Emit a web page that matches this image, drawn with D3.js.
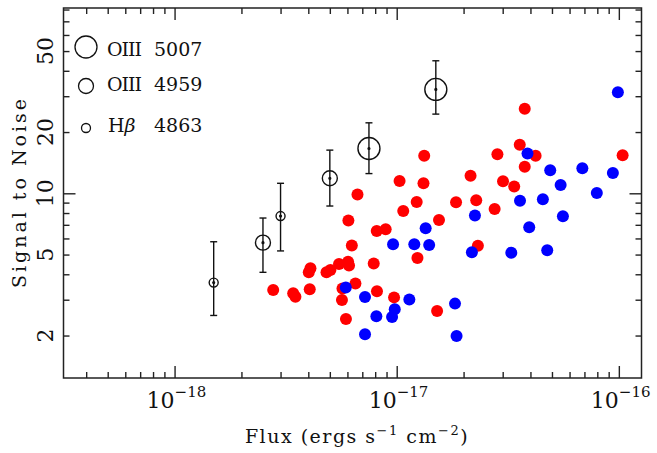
<!DOCTYPE html>
<html>
<head>
<meta charset="utf-8">
<script src="https://cdn.jsdelivr.net/npm/d3@7"></script>
<style>
  body { margin: 0; background: #fff; }
  text { font-family: "DejaVu Serif", serif; fill: #111; }
</style>
</head>
<body>
<div id="chart"></div>
<script>
// Individual objects (red)
const redFlux = [3.77e-17, 1.33e-17, 2.84e-17, 3.58e-17, 4.22e-17, 3.77e-17, 1.32e-17, 2.15e-17, 3.01e-17, 3.38e-17,
  1.23e-17, 1.85e-17, 2.28e-17, 2.76e-17, 1.55e-17, 1.04e-16, 2.32e-17, 1.24e-17, 1.52e-17, 1.03e-17,
  6.66e-18, 1.07e-17, 6.06e-18, 8.13e-18, 8.92e-18, 6.28e-18, 7.88e-18, 5.50e-18, 6.04e-18, 6.10e-18,
  4.09e-18, 4.02e-18, 4.83e-18, 5.03e-18, 2.78e-18, 3.42e-18, 3.50e-18, 4.06e-18, 5.70e-18, 6.52e-18,
  5.67e-18, 8.15e-18, 9.73e-18, 5.91e-18];
const redSN = [26.0, 15.3, 15.55, 17.3, 15.3, 13.5, 11.2, 12.2, 11.45, 10.8,
  9.06, 9.03, 9.24, 8.37, 7.39, 15.4, 5.53, 4.81, 2.64, 11.5,
  9.86, 8.18, 7.35, 6.53, 6.65, 5.54, 4.52, 4.49, 4.61, 4.42,
  4.28, 4.09, 4.09, 4.20, 3.35, 3.23, 3.10, 3.38, 3.41, 3.60,
  2.99, 3.30, 3.08, 2.41];

// Individual objects (blue)
const blueFlux = [9.90e-17, 3.88e-17, 4.91e-17, 6.85e-17, 9.40e-17, 5.47e-17, 7.96e-17, 3.59e-17, 4.55e-17, 2.25e-17,
  5.60e-17, 1.35e-17, 3.95e-17, 1.20e-17, 1.40e-17, 2.18e-17, 3.28e-17, 4.76e-17, 1.14e-17, 1.83e-17,
  1.86e-17, 9.63e-18, 5.90e-18, 7.20e-18, 9.80e-18, 9.53e-18, 8.10e-18, 7.20e-18];
const blueSN = [31.4, 15.7, 12.97, 13.27, 12.58, 10.98, 10.03, 9.20, 9.34, 7.78,
  7.72, 6.73, 6.81, 5.62, 5.57, 5.13, 5.11, 5.25, 3.01, 2.87,
  1.99, 5.62, 3.44, 3.09, 2.69, 2.47, 2.49, 2.03];

// Stacked measurements with error bars
const lineNames = ["OIII 5007", "OIII 4959", "Hβ 4863"];
const o5007Flux = [7.5e-18, 1.5e-17];
const o5007SN = [16.6, 32.4];
const o5007Lo = [12.5, 24.5];
const o5007Hi = [22.2, 44.8];
const o4959Flux = [2.5e-18, 5.0e-18];
const o4959SN = [5.72, 11.85];
const o4959Lo = [4.09, 8.66];
const o4959Hi = [7.56, 16.3];
const hbFlux = [1.5e-18, 3.0e-18];
const hbSN = [3.64, 7.73];
const hbLo = [2.51, 5.21];
const hbHi = [5.78, 11.2];

// Tick labels
const xTickValues = [1e-18, 1e-17, 1e-16];
const xTickExps = ["−18", "−17", "−16"];
const yTickValues = [2, 5, 10, 20, 50];

const width = 657, height = 453;
const plotLeft = 63.5, plotRight = 641.5, plotTop = 8, plotBottom = 378;

const svg = d3.select("#chart").append("svg")
  .attr("width", width)
  .attr("height", height);

const x = d3.scaleLog().domain([Math.pow(10, -18.5), Math.pow(10, -15.898)]).range([plotLeft, plotRight]);
const y = d3.scaleLog().domain([1.237, 81.4]).range([plotBottom, plotTop]);

const isMajor = v => Math.abs(Math.log10(v) - Math.round(Math.log10(v))) < 1e-6;
const xMinor = x.ticks().filter(v => !isMajor(v));
const xMajor = x.ticks().filter(isMajor);
const yMinor = y.ticks().filter(v => !isMajor(v));
const yMajor = y.ticks().filter(isMajor);

// inward ticks on all four sides
function tickAxis(axisFn, scale, values, size, tx, ty) {
  const g = svg.append("g")
    .attr("transform", `translate(${tx},${ty})`)
    .call(axisFn(scale).tickValues(values).tickSize(-size).tickFormat(""));
  g.select(".domain").remove();
  g.selectAll("line").attr("stroke", "#222").attr("stroke-width", 1.4);
}
tickAxis(d3.axisBottom, x, xMinor, 6, 0, plotBottom);
tickAxis(d3.axisBottom, x, xMajor, 12, 0, plotBottom);
tickAxis(d3.axisTop, x, xMinor, 6, 0, plotTop);
tickAxis(d3.axisTop, x, xMajor, 12, 0, plotTop);
tickAxis(d3.axisLeft, y, yMinor, 6, plotLeft, 0);
tickAxis(d3.axisLeft, y, yMajor, 12, plotLeft, 0);
tickAxis(d3.axisRight, y, yMinor, 6, plotRight, 0);
tickAxis(d3.axisRight, y, yMajor, 12, plotRight, 0);

// frame
svg.append("rect")
  .attr("x", plotLeft).attr("y", plotTop)
  .attr("width", plotRight - plotLeft).attr("height", plotBottom - plotTop)
  .attr("fill", "none").attr("stroke", "#222").attr("stroke-width", 1.5);

// x tick labels: 10^n
xTickValues.forEach(function(v, i) {
  const t = svg.append("text")
    .attr("x", x(v) - 28)
    .attr("y", 408)
    .style("font-size", "22px");
  t.append("tspan").text("10");
  t.append("tspan").attr("dy", -11).style("font-size", "15px").text(xTickExps[i]);
});

// y tick labels, rotated
yTickValues.forEach(function(v) {
  svg.append("text")
    .attr("transform", `translate(53,${y(v)}) rotate(-90)`)
    .attr("text-anchor", "middle")
    .style("font-size", "22px")
    .text(v);
});

// axis titles
const xt = svg.append("text")
  .attr("x", 357)
  .attr("y", 443)
  .attr("text-anchor", "middle")
  .style("font-size", "19px")
  .style("letter-spacing", "1.5px");
xt.append("tspan").text("Flux (ergs s");
xt.append("tspan").attr("dy", -8).style("font-size", "13px").text("−1");
xt.append("tspan").attr("dy", 8).text(" cm");
xt.append("tspan").attr("dy", -8).style("font-size", "13px").text("−2");
xt.append("tspan").attr("dy", 8).text(")");

svg.append("text")
  .attr("transform", "translate(26,192) rotate(-90)")
  .attr("text-anchor", "middle")
  .style("font-size", "19px")
  .style("letter-spacing", "3px")
  .text("Signal to Noise");

// filled points
svg.append("g").selectAll("circle")
  .data(redFlux.map((f, i) => [f, redSN[i]]))
  .enter().append("circle")
  .attr("cx", d => x(d[0])).attr("cy", d => y(d[1]))
  .attr("r", 6).attr("fill", "#ff0000");

svg.append("g").selectAll("circle")
  .data(blueFlux.map((f, i) => [f, blueSN[i]]))
  .enter().append("circle")
  .attr("cx", d => x(d[0])).attr("cy", d => y(d[1]))
  .attr("r", 6).attr("fill", "#0000ff");

// stacked points with error bars
const stacks = [
  { r: 11, flux: o5007Flux, sn: o5007SN, lo: o5007Lo, hi: o5007Hi },
  { r: 7.5, flux: o4959Flux, sn: o4959SN, lo: o4959Lo, hi: o4959Hi },
  { r: 4.5, flux: hbFlux, sn: hbSN, lo: hbLo, hi: hbHi }
];
stacks.forEach(function(s) {
  const g = svg.append("g").attr("stroke", "#111").attr("stroke-width", 1.4).attr("fill", "none");
  s.flux.forEach(function(f, i) {
    const cx = x(f);
    g.append("line").attr("x1", cx).attr("x2", cx).attr("y1", y(s.lo[i])).attr("y2", y(s.hi[i]));
    g.append("line").attr("x1", cx - 3.5).attr("x2", cx + 3.5).attr("y1", y(s.lo[i])).attr("y2", y(s.lo[i]));
    g.append("line").attr("x1", cx - 3.5).attr("x2", cx + 3.5).attr("y1", y(s.hi[i])).attr("y2", y(s.hi[i]));
    g.append("circle").attr("cx", cx).attr("cy", y(s.sn[i])).attr("r", s.r);
    g.append("circle").attr("cx", cx).attr("cy", y(s.sn[i])).attr("r", 0.9).attr("fill", "#111");
  });
});

// legend
const legendY = [47, 86, 128];
const legendBase = [56, 91, 132];
stacks.forEach(function(s, i) {
  svg.append("circle")
    .attr("cx", 86).attr("cy", legendY[i]).attr("r", s.r)
    .attr("fill", "none").attr("stroke", "#111").attr("stroke-width", 1.3);
  const parts = lineNames[i].split(" ");
  const t = svg.append("text")
    .attr("y", legendBase[i])
    .style("font-size", "19px");
  if (parts[0] === "Hβ") {
    t.append("tspan").attr("x", 108).text("H");
    t.append("tspan").style("font-style", "italic").text("β");
  } else {
    t.append("tspan").attr("x", 107)
      .style("letter-spacing", "-1px")
      .text(parts[0]);
  }
  t.append("tspan").attr("x", 154).style("letter-spacing", "0px").text(parts[1]);
});
</script>
</body>
</html>
